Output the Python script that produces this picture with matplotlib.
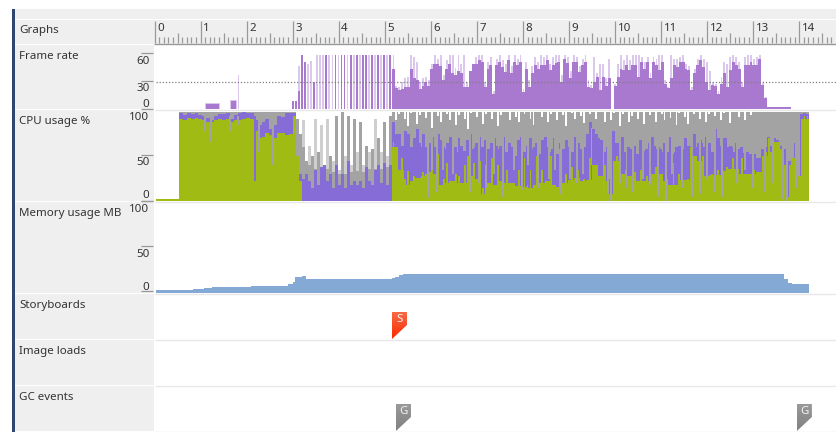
import numpy as np
import matplotlib
matplotlib.use("Agg")
import matplotlib.pyplot as plt
from matplotlib.patches import Polygon, Rectangle

# ---------- data ----------
row_labels = ["Frame rate", "CPU usage %", "Memory usage MB", "Storyboards", "Image loads", "GC events"]
ruler_seconds = list(range(0, 15))

# Frame rate: isolated early bars (start, end, fps)
fps_early_start = [1.10, 1.64]
fps_early_end = [1.40, 1.77]
fps_early_val = [7, 10]
fps_spike_t = [1.81]
fps_spike_val = [38]

# Frame rate 2.99 s .. 5.157 s
fps_a_dark = [9, 9, 20, 60, 52, 0, 0, 30, 0, 0, 0, 60, 0, 0, 60, 0, 60, 60, 0, 60, 0, 60, 0, 60, 60, 0, 60, 0, 60, 0, 60, 0, 60]
fps_a_light = [9, 9, 48, 60, 52, 50, 53, 30, 60, 60, 60, 60, 60, 60, 60, 60, 60, 60, 60, 60, 60, 60, 60, 60, 60, 60, 60, 60, 60, 60, 60, 60, 60]

# Frame rate 5.157 s .. 13.82 s
fps_b_dark = [45, 23, 21, 22, 24, 25, 44, 34, 32, 22, 26, 30, 26, 44, 50, 50, 48, 32, 44, 50, 40, 38, 42, 40, 25, 24, 42, 50, 50, 55,
              52, 25, 45, 49, 17, 49, 52, 47, 41, 54, 40, 52, 49, 52, 19, 45, 25, 40, 49, 45, 49, 49, 54, 43, 49, 51, 52, 30, 56, 51,
              34, 52, 52, 41, 49, 52, 25, 23, 30, 36, 21, 36, 26, 34, 0, 26, 36, 45, 43, 49, 43, 49, 49, 36,
              52, 45, 52, 34, 52, 49, 43, 52, 28, 23, 34, 49, 47, 52, 52, 45, 43, 21, 40, 49, 54, 47, 30, 21, 27, 26, 17, 28, 40, 25,
              43, 52, 49, 45, 25, 49, 49, 52, 49, 49, 56, 27, 12, 2, 2, 2, 2, 2, 2, 2, 2]
fps_b_light = [60, 26, 24, 30, 34, 36, 60, 58, 52, 30, 34, 36, 32, 50, 60, 56, 60, 38, 54, 60, 60, 46, 60, 50, 60, 30, 26, 50, 58, 60,
               60, 30, 52, 58, 20, 56, 60, 55, 50, 60, 48, 60, 56, 60, 22, 52, 32, 48, 58, 52, 60, 58, 60, 50, 58, 60, 60, 38, 60, 58,
               42, 60, 58, 48, 56, 60, 32, 27, 58, 40, 50, 50, 34, 56, 0, 28, 50, 60, 55, 60, 55, 60, 60, 60,
               58, 52, 58, 40, 58, 56, 60, 60, 32, 25, 60, 56, 56, 58, 60, 50, 48, 24, 45, 56, 60, 56, 52, 42, 30, 28, 20, 36, 52, 50,
               58, 60, 58, 52, 30, 58, 60, 60, 56, 58, 60, 29, 13, 2, 2, 2, 2, 2, 2, 2, 2]

# CPU, cumulative tops: green <= purple <= gray
cpu_idle_val = 2
cpu_1_green = [92, 91, 93, 92, 93, 92, 91, 88, 88, 90, 92, 91, 92, 88, 90, 90, 92, 93, 92, 78, 70, 72, 76, 74, 70, 76, 76, 74, 75]
cpu_1_purple = [98, 96, 98, 97, 98, 96, 95, 93, 90, 95, 97, 97, 98, 92, 96, 98, 99, 98, 98, 90, 85, 88, 92, 80, 85, 95, 94, 98, 98]
cpu_1_dip_t = [1.10, 1.23, 1.64, 1.82, 2.26, 2.58]
cpu_1_dip_bottom = [78, 66, 78, 85, 55, 40]
cpu_1_purple_dip_t = [2.18]
cpu_1_purple_dip_bottom = [22]

cpu_2_green = [95, 50, 22] + [0] * 30
cpu_2_purple_base = [98, 40, 30, 22, 18, 16, 14, 14, 14, 14, 14, 14, 14, 14, 14, 14, 14, 14, 14, 14, 14, 14, 14, 14, 14, 14, 14, 14, 14, 14, 14, 14, 14]
cpu_2_gray_base = [100, 92, 75, 60, 42, 40, 38, 36, 38, 36, 34, 36, 34, 32, 34, 30, 32, 30, 34, 32, 36, 34, 36, 32, 34, 36, 34, 36, 38, 36, 40, 38, 40]
cpu_2_purple = [98, 40, 30, 25, 30, 22, 14, 35, 18, 38, 40, 22, 30, 15, 40, 18, 30, 15, 45, 18, 22, 18, 22, 15, 38, 22, 18, 35, 40, 20, 42, 18, 40]
cpu_2_gray = [100, 92, 75, 90, 45, 62, 50, 92, 55, 85, 40, 92, 50, 45, 95, 35, 100, 50, 95, 40, 92, 55, 88, 40, 62, 55, 58, 92, 70, 55, 88, 50, 95]

# section 3: wide bases every ~6 px
cpu_3_green_base = [60, 35, 18, 22, 26, 28, 32, 30, 18, 20, 22, 20, 20, 28, 25, 8, 20, 18, 22, 20, 20, 17, 16, 14, 18, 20, 22, 18, 16, 20, 24, 26, 22, 24, 40, 28, 22,
                    8, 45, 30, 28, 22, 22, 22, 30, 30, 22, 18, 18, 24, 24, 50, 45, 28, 29, 29, 34, 36, 36, 30, 30, 30, 32, 50, 55, 66, 40, 5, 48, 28, 92]
cpu_3_purple_base = [75, 58, 62, 55, 65, 60, 62, 52, 60, 55, 60, 50, 56, 54, 60, 50, 58, 62, 54, 52, 60, 48, 52, 56, 60, 50, 46, 58, 52, 46, 52, 50, 58, 62, 75, 58, 52,
                     22, 65, 52, 58, 52, 56, 50, 62, 58, 50, 52, 55, 58, 56, 60, 65, 60, 52, 62, 70, 60, 52, 54, 52, 52, 48, 50, 52, 62, 58, 28, 42, 25, 96]
# section 3: spikes every ~3 px
cpu_3_green = [66, 40, 22, 48, 25, 33, 18, 28, 24, 18, 32, 30, 2, 50, 18, 52, 15, 25, 42, 22, 20, 30, 28, 18, 40, 50, 12, 42, 18, 45,
               15, 40, 12, 48, 15, 40, 18, 5, 35, 18, 12, 15, 35, 12, 48, 18, 35, 8, 50, 15, 35, 12, 22, 50, 12, 10, 58, 8, 30, 12,
               38, 15, 35, 12, 25, 20, 48, 22, 30, 25, 15, 40, 10,
               5, 45, 50, 30, 22, 35, 15, 20, 32, 15, 35, 12, 28, 35, 18, 38, 22, 30, 20, 25, 15, 42, 18, 30, 40, 15, 25, 60, 10, 45,
               25, 50, 15, 25, 30, 15, 35, 8, 30, 38, 20, 48, 25, 15, 48, 30, 25, 30, 35, 30, 15, 48, 55, 70, 35, 62, 65, 58, 25, 5,
               40, 38, 55, 18, 92, 95, 95]
cpu_3_purple = [88, 70, 75, 62, 78, 75, 60, 70, 80, 60, 75, 55, 65, 72, 60, 75, 68, 58, 65, 72, 60, 55, 70, 62, 50, 68, 75, 58, 65, 72,
                60, 68, 52, 65, 70, 58, 62, 72, 55, 65, 60, 50, 68, 72, 55, 62, 70, 58, 65, 52, 68, 72, 60, 55, 70, 48, 65, 58, 68, 60,
                55, 72, 65, 50, 60, 75, 88, 80, 62, 70, 68, 55, 60,
                25, 78, 65, 60, 72, 55, 60, 50, 62, 50, 68, 55, 58, 65, 72, 50, 60, 55, 65, 55, 72, 48, 60, 62, 50, 70, 62, 62, 75, 55,
                68, 60, 72, 65, 55, 80, 70, 60, 55, 60, 62, 55, 65, 58, 60, 52, 55, 48, 52, 45, 45, 58, 60, 72, 62, 70, 68, 62, 52, 30,
                45, 42, 65, 25, 97, 98, 97]
cpu_3_gray = [100, 90, 97, 100, 92, 84, 98, 100, 86, 96, 100, 93, 99, 82, 100, 95, 88, 100, 97, 90, 100, 85, 96, 100, 92, 80, 98, 100, 94, 100,
              86, 97, 100, 92, 100, 84, 96, 99, 100, 90, 100, 94, 88, 100, 97, 100, 92, 85, 99, 100, 94, 100, 88, 97, 100, 90, 100, 96, 84, 100,
              98, 92, 100, 95, 87, 100, 97, 100, 92, 99, 100, 88, 100,
              90, 98, 100, 84, 97, 100, 88, 95, 100, 92, 100, 86, 99, 96, 100, 88, 100, 97, 90, 100, 93, 100, 85, 98, 100, 94, 86, 100, 97, 100,
              92, 100, 88, 97, 100, 95, 100, 90, 98, 100, 87, 99, 100, 94, 100, 90, 100, 96, 100, 100, 100, 100, 100, 100, 100, 100, 100, 100, 100, 100,
              100, 100, 100, 100, 100, 100, 100]
# section 3: thin gray streaks that reach down through purple and green
cpu_3_dip_t = [5.93, 6.02, 6.13, 6.26, 6.49, 6.85, 7.05, 7.21, 7.37, 7.57, 7.81, 7.99, 8.12, 8.33, 8.57, 8.70, 8.82, 9.02, 9.18, 9.31, 9.49, 9.75, 9.85,
               9.92, 10.11, 10.25, 10.40, 10.61, 10.76, 10.94, 11.10, 11.23, 11.45, 11.68, 11.84, 11.99, 12.17, 12.33, 12.64, 12.82, 13.00, 13.26, 13.44, 13.65, 13.73, 13.94]
cpu_3_dip_bottom = [3, 35, 10, 35, 30, 10, 20, 15, 30, 5, 35, 12, 40, 15, 25, 35, 8, 25, 20, 30, 40, 10, 8,
                    0, 20, 15, 10, 25, 18, 5, 0, 30, 15, 5, 8, 25, 10, 5, 20, 35, 15, 10, 20, 2, 0, 15]

# Memory: step series (time, MB)
mem_t = [0.03, 0.83, 1.08, 1.25, 1.75, 2.10, 2.90, 3.00, 3.05, 3.20, 3.28, 5.15, 5.22, 5.30, 5.40, 13.68, 13.75, 13.85, 14.21]
mem_v = [3, 4, 5.5, 6.5, 6.5, 8, 9.5, 12, 17.5, 18.5, 15.5, 16.5, 18, 20, 20.5, 15, 11, 9.5, 9.5]

# Events (seconds)
storyboard_t = [5.157]
storyboard_labels = ["S"]
gc_t = [5.244, 13.95]
gc_labels = ["G", "G"]

# ---------- style ----------
W, H = 836, 432
PX_PER_S = 46.05
X0 = 154.5
C_BG = "#efefef"
C_SEP = "#e8e8e8"
C_TXT = "#333333"
C_TICK = "#999999"
C_FPS = "#a978cf"
C_FPS_L = "#dcc8ec"
C_GREEN = "#a0bc14"
C_PURPLE = "#856cd6"
C_GRAY = "#a3a3a3"
C_GRAY_L = "#cfcfcf"
C_MEM = "#84a9d4"
FONT = "Noto Sans"
FS = 8.3
THIN = 1.9 / PX_PER_S

plt.rcParams["font.family"] = FONT
fig = plt.figure(figsize=(W / 100, H / 100), dpi=100, facecolor="white")


def x_of(t):
    return X0 + PX_PER_S * np.asarray(t, dtype=float)


def px_axes(x0, y0, x1, y1, **kw):
    return fig.add_axes([x0 / W, 1 - y1 / H, (x1 - x0) / W, (y1 - y0) / H], **kw)


bg = px_axes(0, 0, W, H, zorder=0)
bg.set_xlim(0, W)
bg.set_ylim(H, 0)
bg.axis("off")

rows = [(45, 109), (110, 201), (202, 293), (294, 339), (340, 385), (386, 431)]

bg.add_patch(Rectangle((12, 9), 3, H - 9, color="#2f4672", lw=0))
bg.add_patch(Rectangle((15, 9), W - 15, 10, color=C_BG, lw=0))
bg.add_patch(Rectangle((15, 20), W - 15, 24, color=C_BG, lw=0))
for (y0, y1), lab in zip(rows, row_labels):
    bg.add_patch(Rectangle((15, y0), 139, y1 - y0, color=C_BG, lw=0))
    bg.plot([155, W], [y1 + 0.5, y1 + 0.5], color=C_SEP, lw=1, solid_capstyle="butt")
    bg.text(19, y0 + 11.8, lab, fontsize=FS, color=C_TXT, ha="left", va="center")
bg.text(19, 31, "Graphs", fontsize=FS, color=C_TXT, ha="left", va="center")

# ruler
bg.plot([154, W], [43.5, 43.5], color=C_TICK, lw=1, solid_capstyle="butt")
for i in range(0, 150):
    t = i / 10
    xp = x_of(t)
    if xp > W:
        break
    if i % 10 == 0:
        top_y = 21
    elif i % 5 == 0:
        top_y = 33
    else:
        top_y = 37
    bg.plot([xp, xp], [top_y, 43], color=C_TICK, lw=0.9, solid_capstyle="butt")
for s in ruler_seconds:
    bg.text(x_of(s) + 2.5, 28.8, str(s), fontsize=FS, color=C_TXT, ha="left", va="center")

scale_marks = [("60", 61.3, 53), ("30", 88.8, 80.5), ("0", 104.3, 108.5),
               ("100", 117.3, None), ("50", 162.8, 154.5), ("0", 195.8, 200.5),
               ("100", 209.3, 201), ("50", 254.3, 246), ("0", 287.8, 291)]
for txt, ty, ly in scale_marks:
    bg.text(149.5, ty, txt, fontsize=FS, color=C_TXT, ha="right", va="center")
    if ly is not None:
        bg.plot([141, 153], [ly, ly], color=C_TICK, lw=0.9, solid_capstyle="butt")


def row_axes(y0, y1, ylim):
    ax = px_axes(156, y0, W, y1, zorder=1)
    ax.set_xlim((156 - X0) / PX_PER_S, (W - X0) / PX_PER_S)
    ax.set_ylim(*ylim)
    ax.axis("off")
    return ax


def bins(t0, t1, n):
    edges = np.linspace(t0, t1, n + 1)
    return edges[:-1], (t1 - t0) / n


def thin(ax, t, top_v, color, bottom=0.0):
    ax.bar(t, np.asarray(top_v, float) - bottom, bottom=bottom, width=THIN, align="center", color=color, lw=0)


# Frame rate
ax = row_axes(45, 109, (0, 64 / 0.9))
T_FPS_SPLIT = 5.157
ax.bar(fps_early_start, fps_early_val, width=np.subtract(fps_early_end, fps_early_start), align="edge",
       color=C_FPS, edgecolor=C_FPS_L, lw=0.6)
ax.bar(fps_spike_t, fps_spike_val, width=0.03, align="edge", color=C_FPS_L, lw=0)
ta, wa = bins(2.99, T_FPS_SPLIT, len(fps_a_dark))
ax.bar(ta, fps_a_light, width=wa * 0.62, align="edge", color=C_FPS_L, lw=0)
ax.bar(ta, fps_a_dark, width=wa * 0.62, align="edge", color=C_FPS, lw=0)
tb, wb = bins(T_FPS_SPLIT, 13.82, len(fps_b_dark))
thin(ax, tb + wb / 2, fps_b_light, C_FPS_L)
ax.bar(tb, fps_b_dark, width=wb, align="edge", color=C_FPS, lw=0)
ax.axhline(30, color="#7f7f7f", lw=0.9, ls=(0, (1, 1.5)))

# CPU
ax = row_axes(110, 201, (0, 91 / 0.895))
ax.bar([0.03], [cpu_idle_val], width=0.497, align="edge", color=C_GREEN, lw=0)

# section 1
t1a, w1 = bins(0.527, 3.008, len(cpu_1_green))
ax.bar(t1a, [100] * len(t1a), width=w1, align="edge", color=C_GRAY, lw=0)
ax.bar(t1a, cpu_1_purple, width=w1, align="edge", color=C_PURPLE, lw=0)
ax.bar(t1a, cpu_1_green, width=w1, align="edge", color=C_GREEN, lw=0)
thin(ax, cpu_1_dip_t, [95] * len(cpu_1_dip_t), C_GRAY, np.array(cpu_1_dip_bottom))
thin(ax, cpu_1_purple_dip_t, [95], C_PURPLE, np.array(cpu_1_purple_dip_bottom))

# section 2
t2a, w2 = bins(3.008, 5.157, len(cpu_2_gray))
spike_colors = [C_GRAY if i % 2 == 0 else C_GRAY_L for i in range(len(cpu_2_gray))]
ax.bar(t2a, cpu_2_gray, width=w2, align="edge", color=spike_colors, lw=0)
ax.bar(t2a, cpu_2_gray_base, width=w2, align="edge", color=C_GRAY, lw=0)
ax.bar(t2a, cpu_2_purple, width=w2 * 0.85, align="edge", color=C_PURPLE, lw=0)
ax.bar(t2a, cpu_2_purple_base, width=w2, align="edge", color=C_PURPLE, lw=0)
ax.bar(t2a, cpu_2_green, width=w2, align="edge", color=C_GREEN, lw=0)

# section 3
T3_0, T3_1 = 5.157, 14.213
ax.bar([T3_0], [100], width=T3_1 - T3_0, align="edge", color=C_GRAY, lw=0)
t3, w3 = bins(T3_0, T3_1, len(cpu_3_green))
tb3, wb3 = bins(T3_0, T3_1, len(cpu_3_green_base))
thin(ax, t3 + w3 / 2, [100] * len(t3), "white", np.array(cpu_3_gray, float))
ax.bar(t3, cpu_3_purple, width=w3, align="edge", color=C_PURPLE, lw=0)
ax.bar(tb3, cpu_3_purple_base, width=wb3, align="edge", color=C_PURPLE, lw=0)
ax.bar(tb3, cpu_3_green_base, width=wb3, align="edge", color=C_GREEN, lw=0)
thin(ax, t3 + w3 / 2, cpu_3_green, C_GREEN)
thin(ax, cpu_3_dip_t, [82] * len(cpu_3_dip_t), C_GRAY, np.array(cpu_3_dip_bottom, float))

# Memory
ax = row_axes(202, 293, (0, 91 / 0.91))
ax.fill_between(mem_t, mem_v, 0, step="post", color=C_MEM, lw=0)

# Event flags on a top layer
top = px_axes(0, 0, W, H, zorder=3)
top.set_xlim(0, W)
top.set_ylim(H, 0)
top.axis("off")
top.patch.set_alpha(0)


def flag(t, row, label, c_top, c_bottom):
    y1 = rows[row][1]
    x = float(x_of(t))
    poly = Polygon([(x, y1 - 27), (x + 15, y1 - 27), (x + 15, y1 - 14), (x, y1)], closed=True,
                   transform=top.transData, fc="none", ec="none")
    top.add_patch(poly)
    grad = np.linspace(0, 1, 64)[:, None]
    cmap = matplotlib.colors.LinearSegmentedColormap.from_list("f", [c_top, c_bottom])
    im = top.imshow(grad, extent=(x, x + 15, y1, y1 - 27), cmap=cmap, aspect="auto", zorder=2, origin="upper")
    im.set_clip_path(poly)
    top.text(x + 7.5, y1 - 20, label, color="#f4f4f4", fontsize=8.2, ha="center", va="center", zorder=3)


for t, lab in zip(storyboard_t, storyboard_labels):
    flag(t, 3, lab, "#f76a45", "#fa2a00")
for t, lab in zip(gc_t, gc_labels):
    flag(t, 5, lab, "#9a9a9a", "#808080")
top.set_xlim(0, W)
top.set_ylim(H, 0)

fig.savefig("out.png", dpi=100, facecolor="white")
